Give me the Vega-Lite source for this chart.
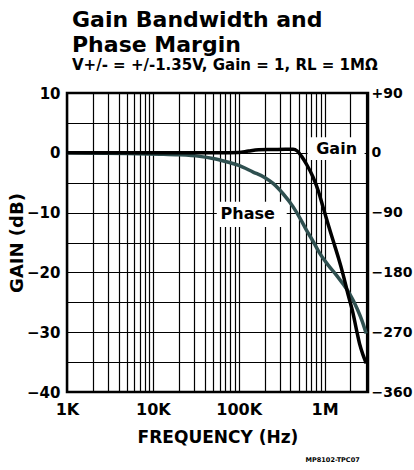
{
  "$schema": "https://vega.github.io/schema/vega-lite/v6.json",
  "width": 301,
  "height": 299,
  "autosize": "none",
  "padding": {"left": 67, "top": 93, "right": 46, "bottom": 78},
  "background": "white",
  "title": {
    "text": ["Gain Bandwidth and", "Phase Margin"],
    "subtitle": "V+/- = +/-1.35V, Gain = 1, RL = 1MΩ",
    "anchor": "start",
    "frame": "group",
    "dx": 5,
    "font": "DejaVu Sans",
    "fontWeight": "bold",
    "fontSize": 22,
    "lineHeight": 25,
    "color": "black",
    "subtitleFont": "DejaVu Sans",
    "subtitleFontSize": 15,
    "subtitleFontWeight": "bold",
    "subtitleColor": "black",
    "subtitlePadding": 1,
    "offset": 12
  },
  "config": {
    "view": {"stroke": "black", "strokeWidth": 2.5},
    "axis": {
      "labelFont": "DejaVu Sans",
      "labelFontWeight": "bold",
      "labelFontSize": 16,
      "labelColor": "black",
      "titleFont": "DejaVu Sans",
      "titleFontWeight": "bold",
      "titleColor": "black",
      "ticks": false,
      "domain": false,
      "gridColor": "black",
      "gridOpacity": 1,
      "gridWidth": 1.2,
      "labelOverlap": false,
      "labelFlush": false
    }
  },
  "datasets": {
    "gain": [
      {"f": 1000, "v": 0}, {"f": 3000, "v": 0}, {"f": 10000, "v": 0}, {"f": 30000, "v": 0},
      {"f": 60000, "v": 0}, {"f": 100000, "v": 0.05}, {"f": 130000, "v": 0.3}, {"f": 170000, "v": 0.5},
      {"f": 250000, "v": 0.55}, {"f": 350000, "v": 0.6}, {"f": 430000, "v": 0.6}, {"f": 480000, "v": 0.3},
      {"f": 540000, "v": -0.6}, {"f": 620000, "v": -2}, {"f": 730000, "v": -4}, {"f": 850000, "v": -6.5},
      {"f": 955000, "v": -9}, {"f": 1100000, "v": -12}, {"f": 1250000, "v": -14.6}, {"f": 1450000, "v": -17.6},
      {"f": 1630000, "v": -20.2}, {"f": 1900000, "v": -24}, {"f": 2140000, "v": -26.8}, {"f": 2350000, "v": -29.6},
      {"f": 2550000, "v": -31.9}, {"f": 2800000, "v": -33.8}, {"f": 3050000, "v": -35.2}
    ],
    "phase": [
      {"f": 1000, "p": 0}, {"f": 5000, "p": -1}, {"f": 12000, "p": -2}, {"f": 20000, "p": -3},
      {"f": 35000, "p": -5.4}, {"f": 50000, "p": -8.5}, {"f": 72000, "p": -13.5}, {"f": 100000, "p": -19},
      {"f": 147000, "p": -29}, {"f": 200000, "p": -37}, {"f": 251000, "p": -46}, {"f": 330000, "p": -62},
      {"f": 428000, "p": -81}, {"f": 520000, "p": -99}, {"f": 612000, "p": -116}, {"f": 740000, "p": -134},
      {"f": 875000, "p": -151}, {"f": 1100000, "p": -169}, {"f": 1370000, "p": -184}, {"f": 1650000, "p": -198},
      {"f": 1950000, "p": -212}, {"f": 2400000, "p": -235}, {"f": 2750000, "p": -254}, {"f": 3050000, "p": -272}
    ],
    "labels": [
      {"name": "Gain", "f": 1380000, "v": 0.7, "f1": 634000, "f2": 2920000, "v1": 2.6, "v2": -1.2},
      {"name": "Phase", "f": 127000, "v": -10.3, "f1": 55500, "f2": 362000, "v1": -8.2, "v2": -12.4}
    ],
    "footer": [
      {"name": "MP8102-TPC07", "f": 1240000, "v": -51.4}
    ]
  },
  "encoding": {
    "x": {
      "field": "f",
      "type": "quantitative",
      "scale": {"type": "log", "domain": [1000, 3200000], "nice": false},
      "axis": {
        "title": "FREQUENCY (Hz)",
        "titleFontSize": 17,
        "titlePadding": 12,
        "labelPadding": 9,
        "grid": true,
        "values": [1000, 2000, 3000, 4000, 5000, 6000, 7000, 8000, 9000,
                   10000, 20000, 30000, 40000, 50000, 60000, 70000, 80000, 90000,
                   100000, 200000, 300000, 400000, 500000, 600000, 700000, 800000, 900000,
                   1000000, 2000000, 3000000],
        "labelExpr": "datum.value == 1000 ? '1K' : datum.value == 10000 ? '10K' : datum.value == 100000 ? '100K' : datum.value == 1000000 ? '1M' : ''"
      }
    }
  },
  "layer": [
    {
      "data": {"name": "labels"},
      "mark": {"type": "rect", "fill": "white"},
      "encoding": {
        "x": {"field": "f1", "type": "quantitative"},
        "x2": {"field": "f2"},
        "y": {"field": "v1", "type": "quantitative", "scale": {"domain": [-40, 10], "nice": false, "zero": false}, "axis": null},
        "y2": {"field": "v2"}
      }
    },
    {
      "data": {"name": "phase"},
      "mark": {"type": "line", "color": "#2f5050", "strokeWidth": 3.5, "interpolate": "monotone"},
      "encoding": {
        "y": {
          "field": "p",
          "type": "quantitative",
          "scale": {"domain": [-360, 90], "nice": false, "zero": false},
          "axis": {
            "orient": "right",
            "title": null,
            "grid": false,
            "labelFontSize": 14,
            "labelPadding": 3,
            "values": [-360, -270, -180, -90, 0, 90],
            "labelExpr": "datum.value > 0 ? '+' + datum.label : datum.label"
          }
        }
      }
    },
    {
      "data": {"name": "gain"},
      "mark": {"type": "line", "color": "black", "strokeWidth": 3.5, "interpolate": "monotone"},
      "encoding": {
        "y": {
          "field": "v",
          "type": "quantitative",
          "scale": {"domain": [-40, 10], "nice": false, "zero": false},
          "axis": {
            "orient": "left",
            "title": "GAIN (dB)",
            "titleFontSize": 18,
            "titlePadding": 0,
            "labelFontSize": 15,
            "labelPadding": 7,
            "grid": true,
            "values": [-40, -35, -30, -25, -20, -15, -10, -5, 0, 5, 10],
            "labelExpr": "datum.value % 10 == 0 ? datum.label : ''"
          }
        }
      }
    },
    {
      "data": {"name": "labels"},
      "mark": {"type": "text", "font": "DejaVu Sans", "fontWeight": "bold", "fontSize": 16, "color": "black", "baseline": "middle", "align": "center"},
      "encoding": {
        "y": {"field": "v", "type": "quantitative", "scale": {"domain": [-40, 10], "nice": false, "zero": false}, "axis": null},
        "text": {"field": "name"}
      }
    },
    {
      "data": {"name": "footer"},
      "mark": {"type": "text", "font": "DejaVu Sans", "fontWeight": "bold", "fontSize": 6.5, "color": "black", "baseline": "middle", "align": "center"},
      "encoding": {
        "y": {"field": "v", "type": "quantitative", "scale": {"domain": [-40, 10], "nice": false, "zero": false}, "axis": null},
        "text": {"field": "name"}
      }
    }
  ],
  "resolve": {"scale": {"y": "independent"}}
}
